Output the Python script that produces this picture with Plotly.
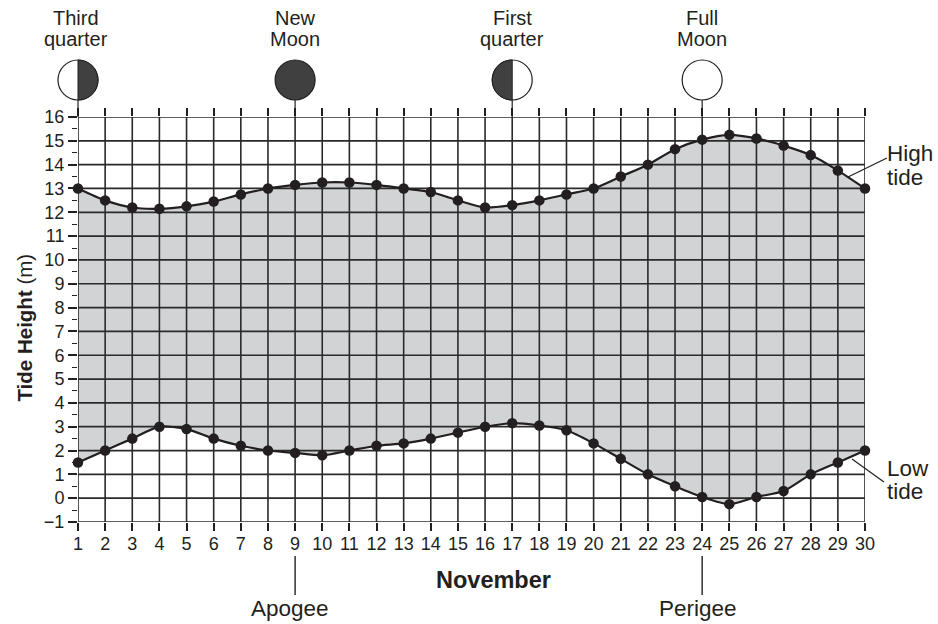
import plotly.graph_objects as go

days = list(range(1, 31))
high_tide = [13, 12.5, 12.2, 12.15, 12.25, 12.45, 12.75, 13, 13.15, 13.25, 13.25, 13.15, 13, 12.85, 12.5,
             12.2, 12.3, 12.5, 12.75, 13, 13.5, 14, 14.65, 15.05, 15.25, 15.1, 14.8, 14.4, 13.75, 13]
low_tide = [1.5, 2, 2.5, 3, 2.9, 2.5, 2.2, 2, 1.9, 1.8, 2, 2.2, 2.3, 2.5, 2.75,
            3, 3.15, 3.05, 2.85, 2.3, 1.65, 1, 0.5, 0.05, -0.25, 0.05, 0.3, 1, 1.5, 2]
y_ticks = list(range(-1, 17))
moon_days = [1, 9, 17, 24]
moon_names = [("Third", "quarter"), ("New", "Moon"), ("First", "quarter"), ("Full", "Moon")]
moon_kinds = ["third", "new", "first", "full"]
orbit_days = [9, 24]
orbit_names = ["Apogee", "Perigee"]

W, H = 938, 624
L, R, T, B = 77.5, 865, 117, 522
DARK = "#231f20"
MOON = "#404041"
FILL = "#d1d3d4"
FONT = "Liberation Sans"


def px(p):
    return (p - L) / (R - L)


def py(p):
    return (B - p) / (B - T)


def dx(d):
    return (d - 1) / 29


fig = go.Figure()
fig.add_trace(go.Scatter(x=days, y=low_tide, mode="lines", line=dict(color="rgba(0,0,0,0)", width=0, shape="spline", smoothing=0.7), showlegend=False, hoverinfo="skip"))
fig.add_trace(go.Scatter(x=days, y=high_tide, mode="lines", line=dict(color="rgba(0,0,0,0)", width=0, shape="spline", smoothing=0.7), fill="tonexty", fillcolor=FILL, showlegend=False, hoverinfo="skip"))

# grid drawn over the fill
gx, gy = [], []
for d in days:
    gx += [d, d, None]
    gy += [y_ticks[0], y_ticks[-1], None]
fig.add_trace(go.Scatter(x=gx, y=gy, mode="lines", line=dict(color="#2a2a2a", width=1.6), showlegend=False, hoverinfo="skip"))
hx, hy = [], []
for v in y_ticks:
    hx += [days[0], days[-1], None]
    hy += [v, v, None]
fig.add_trace(go.Scatter(x=hx, y=hy, mode="lines", line=dict(color="#2a2a2a", width=1.7), showlegend=False, hoverinfo="skip"))

for name, vals in (("High tide", high_tide), ("Low tide", low_tide)):
    fig.add_trace(go.Scatter(x=days, y=vals, name=name, mode="lines+markers", cliponaxis=False,
                             line=dict(color=DARK, width=2.2, shape="spline", smoothing=0.7),
                             marker=dict(color=DARK, size=10.5), showlegend=False))

shapes = []
annotations = []


def label(text, xp, yp, size, anchor="center", angle=0):
    annotations.append(dict(text=text, xref="paper", yref="paper", x=xp, y=py(yp), xanchor=anchor, yanchor="middle",
                            textangle=angle, showarrow=False, font=dict(family=FONT, size=size, color=DARK)))


MOON_Y = 80
RAD = 20
C = RAD * 0.5523
RIGHT = f"M 0 {-RAD} C {C} {-RAD} {RAD} {-C} {RAD} 0 C {RAD} {C} {C} {RAD} 0 {RAD} Z"
LEFT = f"M 0 {-RAD} C {-C} {-RAD} {-RAD} {-C} {-RAD} 0 C {-RAD} {C} {-C} {RAD} 0 {RAD} Z"
for d, (line1, line2), kind in zip(moon_days, moon_names, moon_kinds):
    xa = dx(d)
    shapes.append(dict(type="line", xref="paper", yref="paper", x0=xa, x1=xa, y0=1, y1=py(MOON_Y),
                       line=dict(color=DARK, width=1.2), layer="above"))
    shapes.append(dict(type="circle", xref="paper", yref="paper", xsizemode="pixel", ysizemode="pixel",
                       xanchor=xa, yanchor=py(MOON_Y), x0=-RAD, x1=RAD, y0=-RAD, y1=RAD,
                       fillcolor=MOON if kind == "new" else "white", line=dict(color=DARK, width=1.2), layer="above"))
    if kind in ("third", "first"):
        shapes.append(dict(type="path", xref="paper", yref="paper", xsizemode="pixel", ysizemode="pixel",
                           xanchor=xa, yanchor=py(MOON_Y), path=RIGHT if kind == "third" else LEFT,
                           fillcolor=MOON, line=dict(color=DARK, width=1), layer="above"))
    tx = px(75) if d == 1 else xa
    label(line1, tx, 18, 20)
    label(line2, tx, 39, 20)

for d, name, tx in zip(orbit_days, orbit_names, [290, 698]):
    xa = dx(d)
    shapes.append(dict(type="line", xref="paper", yref="paper", x0=xa, x1=xa, y0=py(556), y1=py(595),
                       line=dict(color=DARK, width=1.4)))
    label(name, px(tx), 608, 22.5)

shapes.append(dict(type="line", xref="paper", yref="paper", x0=px(848), x1=px(887), y0=py(177), y1=py(158), line=dict(color=DARK, width=1.2)))
shapes.append(dict(type="line", xref="paper", yref="paper", x0=px(852), x1=px(884), y0=py(459), y1=py(482), line=dict(color=DARK, width=1.2)))
label("High", px(885), 153, 22.5, "left")
label("tide", px(885), 177, 22.5, "left")
label("Low", px(885), 468, 22.5, "left")
label("tide", px(885), 491, 22.5, "left")
label("<b>November</b>", px(493), 580, 23.5)
label("<b>Tide Height</b> (m)", px(23), 328, 20.5, angle=-90)

fig.update_layout(
    width=W, height=H, autosize=False,
    margin=dict(l=L, r=W - R, t=T, b=H - B, pad=0),
    paper_bgcolor="white", plot_bgcolor="white",
    shapes=shapes, annotations=annotations, showlegend=False,
    font=dict(family=FONT, color=DARK),
    xaxis=dict(range=[1, 30], tickmode="array", tickvals=days, ticktext=[str(d) for d in days],
               showgrid=False, zeroline=False, showline=False, ticks="outside", ticklen=8, tickwidth=1.5,
               tickcolor=DARK, mirror="ticks", tickfont=dict(size=18), ticklabelstandoff=-3),
    yaxis=dict(range=[-1, 16], tickmode="array", tickvals=y_ticks,
               showgrid=False, zeroline=False, showline=False, ticks="outside", ticklen=9, tickwidth=1.6,
               tickcolor=DARK, tickfont=dict(size=18),
               minor=dict(tickmode="array", tickvals=[v + 0.5 for v in y_ticks[:-1]], ticks="outside", ticklen=5, tickwidth=1.3, tickcolor=DARK)),
)
fig.write_html("out.html", config={"displayModeBar": False},
               post_script="document.body.style.margin='0';document.body.style.overflow='hidden';")
